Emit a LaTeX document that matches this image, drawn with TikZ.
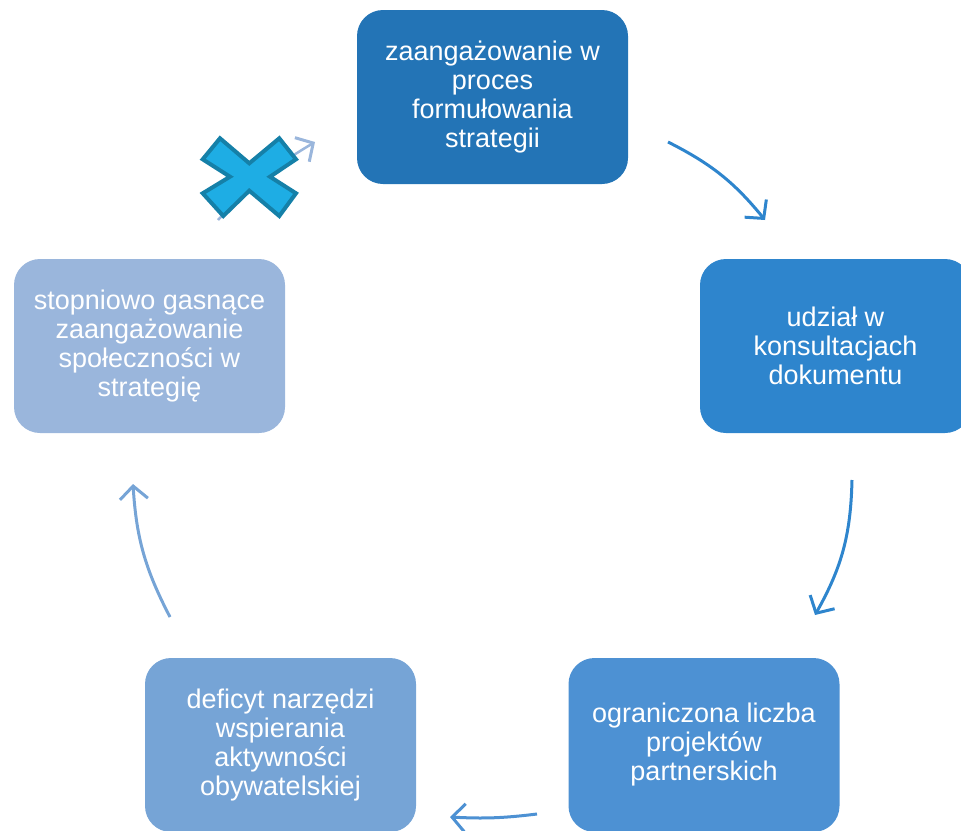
\documentclass[tikz,border=0pt]{standalone}
\usepackage{fontspec}
\setmainfont{Liberation Sans}
\usetikzlibrary{arrows.meta}
\definecolor{boxa}{RGB}{35,116,182}
\definecolor{boxb}{RGB}{46,133,205}
\definecolor{boxc}{RGB}{77,145,211}
\definecolor{boxd}{RGB}{118,164,214}
\definecolor{boxe}{RGB}{154,182,220}
\definecolor{crossfill}{RGB}{30,173,228}
\definecolor{crossline}{RGB}{21,128,168}
\tikzset{
  box/.style = {rounded corners = 26pt, minimum width = 271pt, minimum height = 174pt,
    align = center, text = white, font = \fontsize{27}{29}\selectfont},
  cyc/.style = {line width = 3pt, -{Straight Barb[length = 13pt, width = 28pt, line width = 3pt]}}
}
\begin{document}
\begin{tikzpicture}[x = 1pt, y = -1pt]
			\useasboundingbox (0, 0) rectangle (961, 830);
			% boxes
			\node[box, fill = boxa] (form) at (492.5, 97)  {zaangażowanie w\\proces\\formułowania\\strategii};
			\node[box, fill = boxb] (kons) at (835.5, 346) {udział w\\konsultacjach\\dokumentu};
			\node[box, fill = boxc] (proj) at (704, 745)   {ograniczona liczba\\projektów\\partnerskich};
			\node[box, fill = boxd] (defi) at (280.5, 745) {deficyt narzędzi\\wspierania\\aktywności\\obywatelskiej};
			\node[box, fill = boxe] (gasn) at (149.5, 346) {stopniowo gasnące\\zaangażowanie\\społeczności w\\strategię};
			% ends of the arrows
			\coordinate (a1) at (668, 142); \coordinate (b1) at (765, 220);
			\coordinate (a2) at (852, 480); \coordinate (b2) at (815, 615);
			\coordinate (a3) at (537, 814); \coordinate (b3) at (450, 817);
			\coordinate (a4) at (170, 617); \coordinate (b4) at (133, 484);
			\coordinate (a5) at (218, 220); \coordinate (b5) at (315, 142);
			% arrows
			\draw[cyc, boxb] (a1) to[bend left = 12] (b1);
			\draw[cyc, boxb] (a2) to[bend left = 14] (b2);
			\draw[cyc, boxc] (a3) to[bend left = 5]  (b3);
			\draw[cyc, boxd] (a4) to[bend left = 12] (b4);
			\draw[cyc, boxe, line width = 2.5pt] (a5) to[bend left = 8] (b5);
			% the cross
			\draw[fill = crossfill, draw = crossline, line width = 4pt, line join = miter]
				(202.7, 159.3) -- (220, 138.3) -- (249.3, 163.3) -- (279.3, 138.3) -- (296, 159.3)
				-- (270, 176.7) -- (296, 193.3) -- (279.3, 216) -- (249.3, 190.7) -- (223.3, 216)
				-- (202.7, 193.3) -- (230, 176.7) -- cycle;
		\end{tikzpicture}
\end{document}
